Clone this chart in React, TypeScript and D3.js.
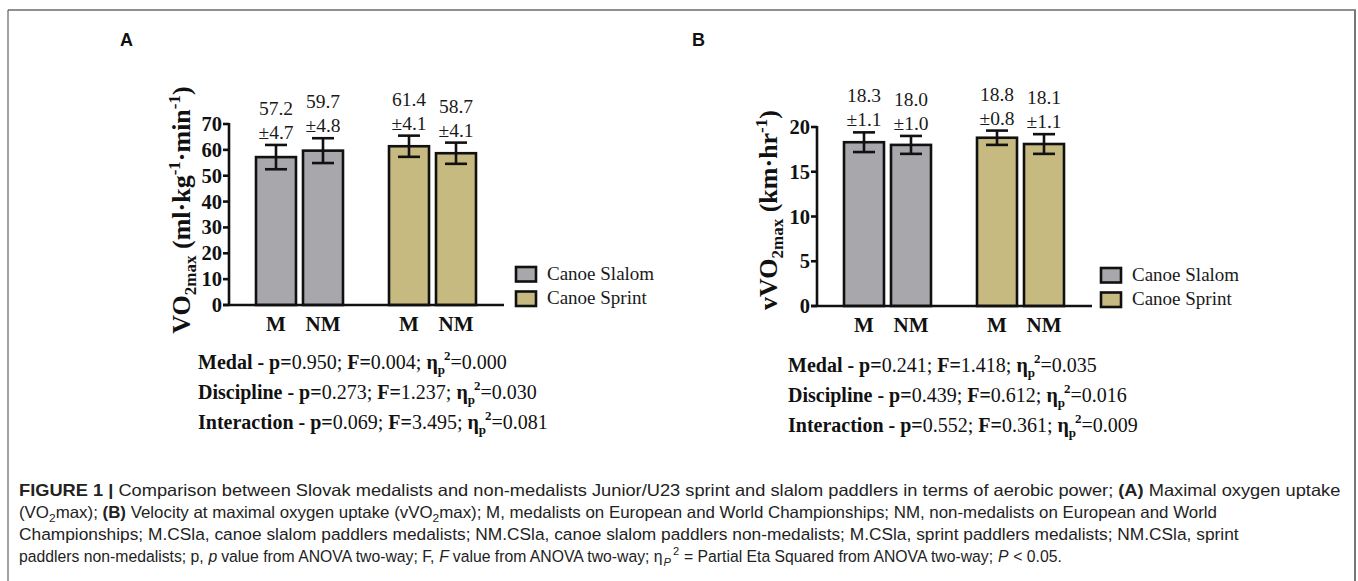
import React, { useLayoutEffect, useRef, useState } from "react";
import * as d3 from "d3";

// ---------- data ----------
const groups = ["Canoe Slalom", "Canoe Sprint"];
const medalCats = ["M", "NM"];
const vo2Mean = [57.2, 59.7, 61.4, 58.7];
const vo2Sd = [4.7, 4.8, 4.1, 4.1];
const vvo2Mean = [18.3, 18.0, 18.8, 18.1];
const vvo2Sd = [1.1, 1.0, 0.8, 1.1];
const vo2Ticks = [0, 10, 20, 30, 40, 50, 60, 70];
const vvo2Ticks = [0, 5, 10, 15, 20];
const statNames = ["Medal", "Discipline", "Interaction"];
const vo2P = ["0.950", "0.273", "0.069"];
const vo2F = ["0.004", "1.237", "3.495"];
const vo2Eta = ["0.000", "0.030", "0.081"];
const vvo2P = ["0.241", "0.439", "0.552"];
const vvo2F = ["1.418", "0.612", "0.361"];
const vvo2Eta = ["0.035", "0.016", "0.009"];

const groupColors = ["#a8a8ac", "#c6ba80"];
const SERIF = "'Liberation Serif', 'Times New Roman', serif";
const SANS = "'Liberation Sans', Arial, sans-serif";

type PanelProps = {
  ax: number;
  yBottom: number;
  yTopPx: number;
  max: number;
  ticks: number[];
  means: number[];
  sds: number[];
  title: React.ReactNode;
  titleX: number;
  legendX: number;
  legendY: number;
  statX: number;
  statY: number;
  p: string[];
  f: string[];
  eta: string[];
};

function Panel(props: PanelProps) {
  const { ax, yBottom, yTopPx, max, ticks, means, sds, title, titleX, legendX, legendY, statX, statY, p, f, eta } = props;
  const y = d3.scaleLinear().domain([0, max]).range([yBottom, yTopPx]);
  const outer = d3.scaleBand<string>().domain(groups).range([ax + 27, ax + 247]).paddingInner(0.346).paddingOuter(0);
  const inner = d3.scaleBand<string>().domain(medalCats).range([0, outer.bandwidth()]).paddingInner(0.149).paddingOuter(0);
  const bw = inner.bandwidth();
  const bars = means.map((m, i) => {
    const g = groups[Math.floor(i / 2)];
    const c = medalCats[i % 2];
    const x = (outer(g) as number) + (inner(c) as number);
    return { m, sd: sds[i], x, cx: x + bw / 2, color: groupColors[Math.floor(i / 2)], c };
  });
  const sw = 2.6;
  return (
    <g>
      {bars.map((b, i) => (
        <rect key={"bar" + i} x={b.x} y={y(b.m)} width={bw} height={yBottom - y(b.m)} fill={b.color} stroke="#111" strokeWidth={sw} />
      ))}
      {bars.map((b, i) => {
        const t = y(b.m + b.sd);
        const bo = y(b.m - b.sd);
        return (
          <g key={"err" + i} stroke="#111" strokeWidth={sw}>
            <line x1={b.cx} x2={b.cx} y1={t} y2={bo} />
            <line x1={b.cx - 11} x2={b.cx + 11} y1={t} y2={t} />
            <line x1={b.cx - 11} x2={b.cx + 11} y1={bo} y2={bo} />
          </g>
        );
      })}
      {bars.map((b, i) => {
        const t = y(b.m + b.sd);
        return (
          <g key={"lab" + i} fontFamily={SERIF} fontSize={19.5} textAnchor="middle" fill="#1a1a1a">
            <text x={b.cx} y={t - 30}>{b.m.toFixed(1)}</text>
            <text x={b.cx} y={t - 6}>{"±" + b.sd.toFixed(1)}</text>
          </g>
        );
      })}
      {/* axes */}
      <line x1={ax} x2={ax} y1={yTopPx - 1} y2={yBottom} stroke="#111" strokeWidth={sw} />
      <line x1={ax - 6} x2={ax + 275} y1={yBottom} y2={yBottom} stroke="#111" strokeWidth={sw} />
      {ticks.map((t) => (
        <g key={"t" + t}>
          <line x1={ax - 6} x2={ax} y1={y(t)} y2={y(t)} stroke="#111" strokeWidth={sw} />
          <text x={ax - 7} y={y(t) + 7} textAnchor="end" fontFamily={SERIF} fontWeight="bold" fontSize={20.5} fill="#111">
            {t}
          </text>
        </g>
      ))}
      {bars.map((b, i) => (
        <text key={"xl" + i} x={b.cx} y={yBottom + 26} textAnchor="middle" fontFamily={SERIF} fontWeight="bold" fontSize={21} fill="#111">
          {b.c}
        </text>
      ))}
      {/* y title */}
      <text transform={`translate(${titleX},210) rotate(-90)`} textAnchor="middle" fontFamily={SERIF} fontWeight="bold" fontSize={26} fill="#111">
        {title}
      </text>
      {/* legend */}
      {groups.map((g, i) => (
        <g key={"leg" + i}>
          <rect x={legendX} y={legendY + i * 24.5} width={20} height={14.5} fill={groupColors[i]} stroke="#111" strokeWidth={sw} />
          <text x={legendX + 31} y={legendY + i * 24.5 + 12.5} fontFamily={SERIF} fontSize={19} fill="#1a1a1a">
            {g}
          </text>
        </g>
      ))}
      {/* stats */}
      {statNames.map((s, i) => (
        <text key={"st" + i} x={statX} y={statY + i * 30} fontFamily={SERIF} fontSize={20} fill="#111">
          <tspan fontWeight="bold">{s + " - p="}</tspan>
          <tspan>{p[i] + "; "}</tspan>
          <tspan fontWeight="bold">F=</tspan>
          <tspan>{f[i] + "; "}</tspan>
          <tspan fontWeight="bold">η</tspan>
          <tspan fontWeight="bold" fontSize={13} dy={5}>p</tspan>
          <tspan fontWeight="bold" fontSize={13} dy={-14} dx={-1}>2</tspan>
          <tspan dy={9}>{"=" + eta[i]}</tspan>
        </text>
      ))}
    </g>
  );
}

const capX = 19;
const capY = [496, 518, 540, 562];
const capWidths = [1321, 1198, 1219, 1043];

export default function App() {
  const refs = useRef<(SVGTextElement | null)[]>([]);
  const [scales, setScales] = useState<number[]>([1, 1, 1, 1]);
  useLayoutEffect(() => {
    const measure = () => {
      const s = capWidths.map((w, i) => {
        const el = refs.current[i];
        if (!el) return 1;
        const len = el.getBBox().width;
        return len > 0 ? w / len : 1;
      });
      setScales(s);
    };
    measure();
    const fonts = (document as any).fonts;
    if (fonts && fonts.ready) fonts.ready.then(measure);
  }, []);

  const titleA = (
    <>
      <tspan>VO</tspan>
      <tspan fontSize={17} dy={6}>2max</tspan>
      <tspan dy={-6}> (ml·kg</tspan>
      <tspan fontSize={17} dy={-10}>-1</tspan>
      <tspan dy={10}>·min</tspan>
      <tspan fontSize={17} dy={-10}>-1</tspan>
      <tspan dy={10}>)</tspan>
    </>
  );
  const titleB = (
    <>
      <tspan>vVO</tspan>
      <tspan fontSize={17} dy={6}>2max</tspan>
      <tspan dy={-6}> (km·hr</tspan>
      <tspan fontSize={17} dy={-10}>-1</tspan>
      <tspan dy={10}>)</tspan>
    </>
  );
  const capLines: React.ReactNode[] = [
    <>
      <tspan fontWeight="bold">FIGURE 1 | </tspan>
      <tspan>Comparison between Slovak medalists and non-medalists Junior/U23 sprint and slalom paddlers in terms of aerobic power; </tspan>
      <tspan fontWeight="bold">(A)</tspan>
      <tspan> Maximal oxygen uptake</tspan>
    </>,
    <>
      <tspan>(VO</tspan>
      <tspan fontSize={11.5} dy={4}>2</tspan>
      <tspan dy={-4}>max); </tspan>
      <tspan fontWeight="bold">(B)</tspan>
      <tspan> Velocity at maximal oxygen uptake (vVO</tspan>
      <tspan fontSize={11.5} dy={4}>2</tspan>
      <tspan dy={-4}>max); M, medalists on European and World Championships; NM, non-medalists on European and World</tspan>
    </>,
    <>Championships; M.CSla, canoe slalom paddlers medalists; NM.CSla, canoe slalom paddlers non-medalists; M.CSla, sprint paddlers medalists; NM.CSla, sprint</>,
    <>
      <tspan>paddlers non-medalists; p,</tspan>
      <tspan dx={5} fontStyle="italic">p</tspan>
      <tspan dx={4}>value from ANOVA two-way; F,</tspan>
      <tspan dx={5} fontStyle="italic">F</tspan>
      <tspan dx={4}>value from ANOVA two-way; η</tspan>
      <tspan dx={1} fontStyle="italic" fontSize={11.5} dy={4}>P</tspan>
      <tspan dx={2} fontSize={11.5} dy={-11}>2</tspan>
      <tspan dx={5} dy={7}>= Partial Eta Squared from ANOVA two-way;</tspan>
      <tspan dx={5} fontStyle="italic">P</tspan>
      <tspan dx={5}>&lt; 0.05.</tspan>
    </>,
  ];

  return (
    <svg width={1358} height={581} style={{ position: "absolute", left: 0, top: 0, display: "block", background: "#fff" }}>
      <rect x={0} y={0} width={1358} height={581} fill="#fff" />
      {/* frame */}
      <line x1={8} x2={1356} y1={10} y2={10} stroke="#222" strokeWidth={1.2} />
      <line x1={8} x2={8} y1={10} y2={581} stroke="#444" strokeWidth={1} />
      <line x1={1355} x2={1355} y1={10} y2={581} stroke="#777" strokeWidth={2} />
      {/* panel letters */}
      <text x={120} y={46} fontFamily={SANS} fontWeight="bold" fontSize={18} fill="#111">A</text>
      <text x={692} y={46} fontFamily={SANS} fontWeight="bold" fontSize={18} fill="#111">B</text>

      <Panel ax={229} yBottom={305} yTopPx={124} max={70} ticks={vo2Ticks} means={vo2Mean} sds={vo2Sd} title={titleA} titleX={190}
        legendX={516} legendY={267} statX={198} statY={369} p={vo2P} f={vo2F} eta={vo2Eta} />
      <Panel ax={817} yBottom={306} yTopPx={127} max={20} ticks={vvo2Ticks} means={vvo2Mean} sds={vvo2Sd} title={titleB} titleX={777}
        legendX={1101} legendY={268} statX={788} statY={372} p={vvo2P} f={vvo2F} eta={vvo2Eta} />

      {/* caption */}
      <g fontFamily={SANS} fontSize={16.3} fill="#222">
        {capLines.map((ln, i) => (
          <g key={"cap" + i} transform={`translate(${capX},${capY[i]}) scale(${scales[i]},1)`}>
            <text ref={(el) => { refs.current[i] = el; }} x={0} y={0}>
              {ln}
            </text>
          </g>
        ))}
      </g>
    </svg>
  );
}
